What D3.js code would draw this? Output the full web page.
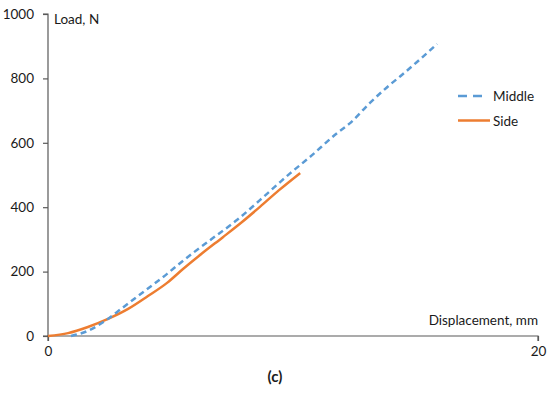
<!DOCTYPE html>
<html><head><meta charset="utf-8">
<script src="https://cdn.jsdelivr.net/npm/d3@7"></script>
<style>body{margin:0;background:#fff}text{font-family:Lato,"Open Sans",sans-serif;fill:#1a1a1a}</style>
</head><body>
<svg id="c" width="550" height="394"></svg>
<script>
const seriesNames = ["Middle", "Side"];
const middleX = [0.94, 1.63, 2.33, 2.98, 3.67, 4.86, 5.10, 5.92, 6.73, 7.71, 8.65, 9.43, 9.88, 10.69, 11.80, 12.33, 13.14, 13.92, 14.37, 15.06, 15.88];
const middleY = [0, 16, 47, 84, 124, 193, 208, 258, 304, 360, 422, 475, 505, 556, 630, 661, 724, 778, 806, 851, 907];
const sideX = [0, 0.82, 1.63, 2.45, 3.27, 4.08, 4.86, 5.51, 6.33, 7.14, 7.92, 8.65, 9.43, 10.29];
const sideY = [0, 9, 28, 53, 84, 124, 165, 208, 259, 307, 354, 401, 453, 506];
const xTicks = [0, 20];
const yTicks = [0, 200, 400, 600, 800, 1000];
const colors = ["#5b9bd5", "#ed7d31"];

const svg = d3.select("#c");
const x = d3.scaleLinear().domain([0, 20]).range([48, 538]);
const y = d3.scaleLinear().domain([0, 1000]).range([336, 14]);

const yAxis = svg.append("g").attr("transform", "translate(48,0)")
  .call(d3.axisLeft(y).tickValues(yTicks).tickSize(5).tickPadding(9).tickFormat(d3.format("d")));
const xAxis = svg.append("g").attr("transform", "translate(0,336)")
  .call(d3.axisBottom(x).tickValues(xTicks).tickSize(5).tickPadding(5).tickFormat(d3.format("d")));
[yAxis, xAxis].forEach(g => {
  g.selectAll("path,line").attr("stroke", "#595959").attr("stroke-width", 1.2);
  g.selectAll("text").style("font-size", "13.5px").attr("fill", "#1a1a1a");
});
yAxis.select(".domain").attr("d", "M-5,14H0V336H-5");
xAxis.select(".domain").attr("d", "M48,5V0H538V5");

const line = d3.line().x(d => x(d[0])).y(d => y(d[1])).curve(d3.curveMonotoneX);
const mid = middleX.map((v, i) => [v, middleY[i]]);
const side = sideX.map((v, i) => [v, sideY[i]]);
svg.append("path").datum(side).attr("d", line).attr("fill", "none")
  .attr("stroke", colors[1]).attr("stroke-width", 2.5).attr("stroke-linejoin", "round");
svg.append("path").datum(mid).attr("d", line).attr("fill", "none")
  .attr("stroke", colors[0]).attr("stroke-width", 2.5).attr("stroke-dasharray", "6,4");

svg.append("text").attr("x", 54).attr("y", 24).style("font-size", "13.5px").text("Load, N");
svg.append("text").attr("x", 538).attr("y", 325).attr("text-anchor", "end").style("font-size", "13.5px").text("Displacement, mm");
svg.append("text").attr("x", 275).attr("y", 382).attr("text-anchor", "middle").style("font-size", "15px").style("font-weight", "bold").text("(c)");

const leg = svg.append("g");
seriesNames.forEach((n, i) => {
  const yy = 96 + i * 24.5;
  leg.append("line").attr("x1", 458).attr("x2", i === 0 ? 482 : 490).attr("y1", yy).attr("y2", yy)
    .attr("stroke", colors[i]).attr("stroke-width", 2.5)
    .attr("stroke-dasharray", i === 0 ? "9,6" : null);
  leg.append("text").attr("x", 493).attr("y", yy + 5).style("font-size", "13.5px").text(n);
});
</script>
</body></html>
